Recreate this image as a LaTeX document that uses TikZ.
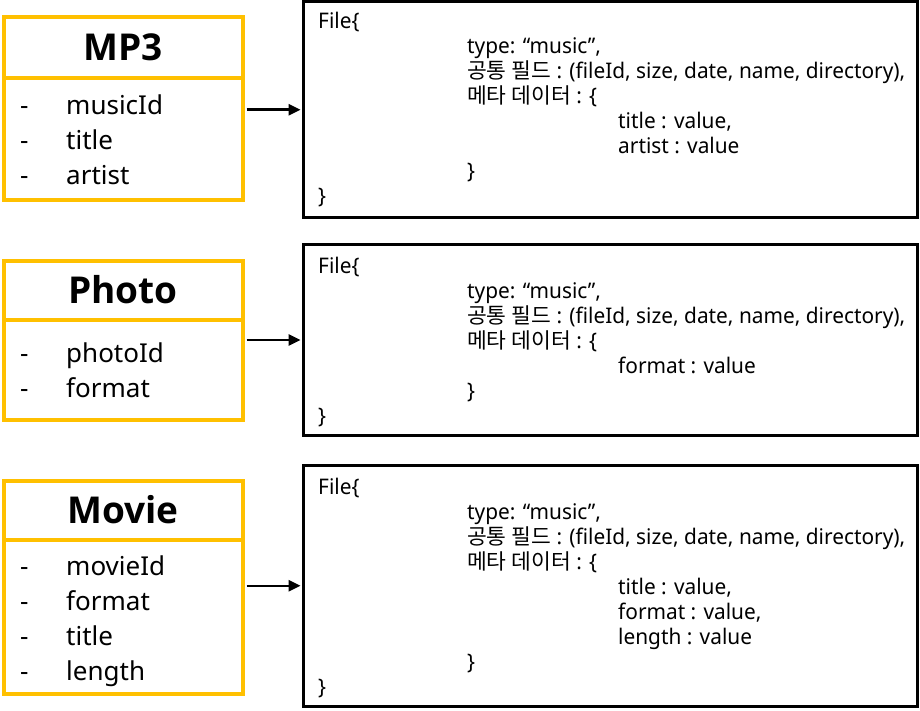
\documentclass[tikz,border=0pt]{standalone}
\usepackage{fontspec}
\setmainfont{Noto Sans}
\newfontfamily\hdfont{Open Sans}
\newfontfamily\rtxt[FakeStretch=0.97]{Noto Sans}
\newfontfamily\rko[FakeStretch=1.0]{Noto Sans CJK KR}
\usetikzlibrary{arrows.meta}
\definecolor{boxorange}{HTML}{FFC000}
\begin{document}
\begin{tikzpicture}[x=1pt,y=-1pt,
  ohead/.style={draw=boxorange,line width=4pt,minimum width=239pt,inner sep=0pt,font=\hdfont\bfseries\fontsize{37}{44}\selectfont},
  obody/.style={draw=boxorange,line width=4pt,minimum width=239pt,inner sep=0pt},
  rbox/.style={draw=black,line width=3pt,minimum width=613.5pt,inner sep=0pt},
  item/.style={anchor=base west,inner sep=0pt,font=\fontsize{26}{30}\selectfont},
  rtext/.style={anchor=base west,inner sep=0pt,font=\rtxt\fontsize{21.5}{25}\selectfont},
  arr/.style={line width=2.5pt,-{Triangle[length=12pt,width=11pt]},shorten >=1.5pt}]
\useasboundingbox (0,0) rectangle (920,711);

% left boxes
\node[obody,minimum height=122.5pt] (mp3b) at (123,139.25) {};
\node[ohead,minimum height=61pt] (mp3h) at (123,47.5) {MP3};
\node[obody,minimum height=100.5pt] (phob) at (123,369.75) {};
\node[ohead,minimum height=59pt] (phoh) at (123,290) {Photo};
\node[obody,minimum height=154.5pt] (movb) at (123,616.75) {};
\node[ohead,minimum height=59pt] (movh) at (123,510) {Movie};

\foreach \t [count=\i] in {musicId,title,artist}
  \node[item] (mp3i\i) at (20,{115+35*(\i-1)}) {\makebox[46pt][l]{-}\t};
\foreach \t [count=\i] in {photoId,format}
  \node[item] (phoi\i) at (20,{362.5+35*(\i-1)}) {\makebox[46pt][l]{-}\t};
\foreach \t [count=\i] in {movieId,format,title,length}
  \node[item] (movi\i) at (20,{575+35*(\i-1)}) {\makebox[46pt][l]{-}\t};

% right boxes
\node[rbox,minimum height=216.5pt] (r1) at (610.25,109.75) {};
\node[rbox,minimum height=191pt] (r2) at (610.25,340) {};
\node[rbox,minimum height=240.5pt] (r3) at (610.25,585.75) {};

% box 1 text
\node[rtext] (a1) at (318,29) {File\{};
\node[rtext] (a2) at (467,54) {type: “music”,};
\node[rtext] (a3) at (467,79) {{\rko 공통 필드} : (fileId, size, date, name, directory),};
\node[rtext] (a4) at (467,104) {{\rko 메타 데이터} : \{};
\node[rtext] (a5) at (618,129) {title : value,};
\node[rtext] (a6) at (618,154) {artist : value};
\node[rtext] (a7) at (467,179) {\}};
\node[rtext] (a8) at (318,204) {\}};

% box 2 text
\node[rtext] (b1) at (318,273) {File\{};
\node[rtext] (b2) at (467,298) {type: “music”,};
\node[rtext] (b3) at (467,323) {{\rko 공통 필드} : (fileId, size, date, name, directory),};
\node[rtext] (b4) at (467,348) {{\rko 메타 데이터} : \{};
\node[rtext] (b5) at (618,373) {format : value};
\node[rtext] (b6) at (467,398) {\}};
\node[rtext] (b7) at (318,423) {\}};

% box 3 text
\node[rtext] (c1) at (318,494) {File\{};
\node[rtext] (c2) at (467,519) {type: “music”,};
\node[rtext] (c3) at (467,544) {{\rko 공통 필드} : (fileId, size, date, name, directory),};
\node[rtext] (c4) at (467,569) {{\rko 메타 데이터} : \{};
\node[rtext] (c5) at (618,594) {title : value,};
\node[rtext] (c6) at (618,619) {format : value,};
\node[rtext] (c7) at (618,644) {length : value};
\node[rtext] (c8) at (467,669) {\}};
\node[rtext] (c9) at (318,694) {\}};

% arrows
\draw[arr] ([xshift=2pt]mp3b.east |- r1.west) -- (r1.west);
\draw[arr] ([xshift=2pt]phob.east |- r2.west) -- (r2.west);
\draw[arr] ([xshift=2pt]movb.east |- r3.west) -- (r3.west);
\end{tikzpicture}
\end{document}
